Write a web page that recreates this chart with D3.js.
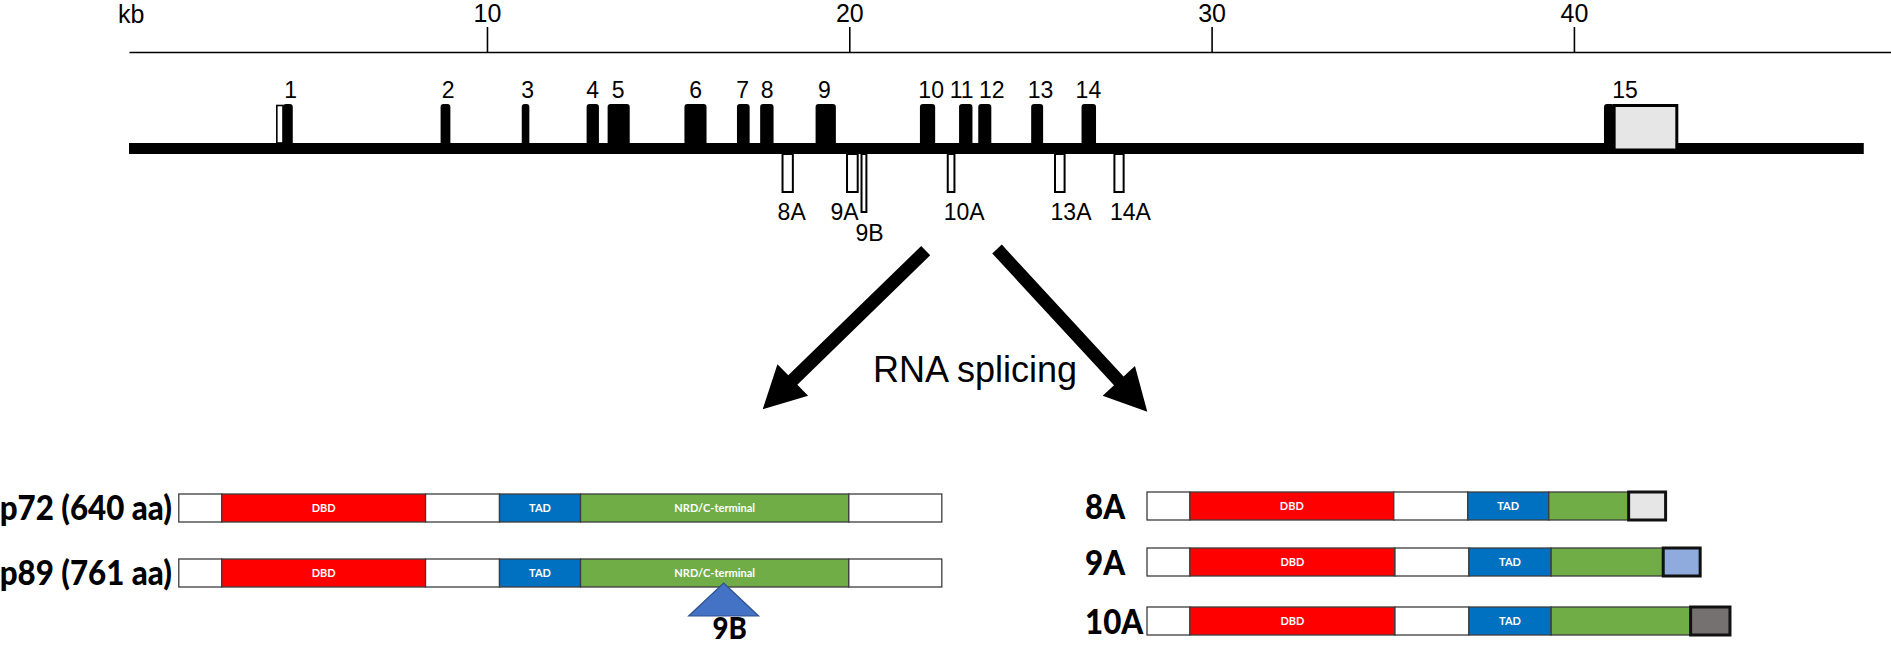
<!DOCTYPE html>
<html>
<head>
<meta charset="utf-8">
<script src="https://cdn.jsdelivr.net/npm/d3@7"></script>
<style>
  html, body { margin: 0; padding: 0; background: #ffffff; }
  svg { display: block; }
</style>
</head>
<body>
<svg id="chart" width="1891" height="646"></svg>
<script>
// ---------------- DATA ----------------
// genomic axis (kb)
const axisTicks = [10, 20, 30, 40];
const axisUnit = "kb";
// constitutive exons (kb)
const exonNames   = ["1","2","3","4","5","6","7","8","9","10","11","12","13","14","15"];
const exonStartKb = [4.37, 8.72, 10.96, 12.75, 13.33, 15.45, 16.90, 17.54, 19.07, 21.95, 23.03, 23.56, 25.02, 26.41, 40.83];
const exonEndKb   = [4.64, 8.99, 11.17, 13.09, 13.94, 16.06, 17.25, 17.91, 19.63, 22.37, 23.40, 23.92, 25.35, 26.81, 41.11];
const exonLabelKb = [4.58, 8.93, 11.12, 12.92, 13.62, 15.76, 17.06, 17.73, 19.31, 22.26, 23.10, 23.93, 25.28, 26.60, 41.41];
// untranslated parts (kb)
const utrStartKb = [4.20, 41.11];
const utrEndKb   = [4.37, 42.84];
const utrFill    = ["#ffffff", "#e6e6e6"];
// gene span (kb)
const geneStartKb = 0.12, geneEndKb = 48.0;
// alternative exons (kb)
const altNames   = ["8A", "9A", "9B", "10A", "13A", "14A"];
const altStartKb = [18.13, 19.91, 20.31, 22.69, 25.65, 27.29];
const altEndKb   = [18.47, 20.26, 20.50, 22.93, 25.97, 27.60];
const altLabelKb = [18.41, 19.87, 20.56, 23.17, 26.12, 27.76];
const altRow     = [0, 0, 1, 0, 0, 0];

// protein isoforms (segment lengths in aa units)
const segTypes  = ["N", "DBD", "L", "TAD", "NRD/C-terminal", "C"];
const segColors = ["#ffffff", "#ff0000", "#ffffff", "#0070c0", "#70ad47", "#ffffff"];
const segLabels = ["", "DBD", "", "TAD", "NRD/C-terminal", ""];
const leftIsoforms = ["p72 (640 aa)", "p89 (761 aa)"];
const leftSegs = [
  [36, 171, 62, 68, 225, 78],
  [36, 171, 62, 68, 225, 78]
];
const insertName = "9B";
const insertAa = 457;   // position of 9B insertion on p89
const rightIsoforms = ["8A", "9A", "10A"];
const rightSegs = [
  [36, 171, 62, 68, 67, 31],
  [36, 172, 62, 69, 94, 31],
  [36, 172, 62, 69, 117, 33]
];
const rightEndColors = ["#e7e6e6", "#8faadc", "#767171"];
const rightSegLabels = ["", "DBD", "", "TAD", "", ""];
const splicingLabel = "RNA splicing";

// ---------------- LAYOUT ----------------
const svg = d3.select("#chart");
const x = d3.scaleLinear().domain([0.12, 49]).range([129, 1900]);
const axisY = 52;
const lineTop = 143, lineBot = 154;
const exonTop = 104;
const altBottoms = [193, 213];
const altLabelBase = [220, 241];
const sans = "'Liberation Sans', Arial, sans-serif";

// axis
const axis = d3.axisTop(x).tickValues(axisTicks).tickSize(25).tickSizeOuter(0).tickPadding(5)
  .tickFormat(d3.format("d"));
const gAxis = svg.append("g").attr("transform", `translate(0,${axisY})`).call(axis);
gAxis.select(".domain").attr("stroke", "#000").attr("stroke-width", 1.6);
gAxis.selectAll(".tick line").attr("stroke", "#000").attr("stroke-width", 1.6);
gAxis.selectAll(".tick text").attr("fill", "#000")
  .style("font-family", sans).style("font-size", "25px");
svg.append("text").attr("x", 118).attr("y", 23).text(axisUnit)
  .style("font-family", sans).style("font-size", "25px");

// gene line
svg.append("rect").attr("x", x(geneStartKb)).attr("y", lineTop)
  .attr("width", x(geneEndKb) - x(geneStartKb)).attr("height", lineBot - lineTop).attr("fill", "#000");

// exons with rounded top
function topRounded(x0, x1, y0, y1, r) {
  r = Math.min(r, (x1 - x0) / 2);
  return `M${x0},${y1} L${x0},${y0 + r} Q${x0},${y0} ${x0 + r},${y0} L${x1 - r},${y0} Q${x1},${y0} ${x1},${y0 + r} L${x1},${y1} Z`;
}
const exons = exonNames.map((n, i) => ({ n, s: exonStartKb[i], e: exonEndKb[i], l: exonLabelKb[i] }));
svg.append("g").selectAll("path").data(exons).join("path")
  .attr("d", d => topRounded(x(d.s), x(d.e), exonTop, lineTop + 1, 3))
  .attr("fill", "#000");
svg.append("g").selectAll("text").data(exons).join("text")
  .attr("x", d => x(d.l)).attr("y", 98).attr("text-anchor", "middle").text(d => d.n)
  .style("font-family", sans).style("font-size", "23px");

// UTRs
const utrs = utrStartKb.map((s, i) => ({ s, e: utrEndKb[i], f: utrFill[i] }));
svg.append("g").selectAll("rect").data(utrs).join("rect")
  .attr("x", d => x(d.s)).attr("y", d => exonTop + 1.5)
  .attr("width", d => x(d.e) - x(d.s)).attr("height", (d, i) => i === 0 ? lineTop - exonTop - 1.5 : 150 - exonTop - 1.5)
  .attr("fill", d => d.f).attr("stroke", "#000").attr("stroke-width", (d, i) => i === 0 ? 1.6 : 3);

// alternative exons
const alts = altNames.map((n, i) => ({ n, s: altStartKb[i], e: altEndKb[i], l: altLabelKb[i], r: altRow[i] }));
svg.append("g").selectAll("rect").data(alts).join("rect")
  .attr("x", d => x(d.s) + 1).attr("y", lineBot)
  .attr("width", d => x(d.e) - x(d.s) - 2).attr("height", d => altBottoms[d.r] - lineBot - 1)
  .attr("fill", "#fff").attr("stroke", "#000").attr("stroke-width", 2);
svg.append("g").selectAll("text").data(alts).join("text")
  .attr("x", d => x(d.l)).attr("y", d => altLabelBase[d.r]).attr("text-anchor", "middle").text(d => d.n)
  .style("font-family", sans).style("font-size", "23px");

// arrows
function arrowPath(x0, y0, x1, y1, w, hl, hw) {
  const dx = x1 - x0, dy = y1 - y0, L = Math.hypot(dx, dy);
  const ux = dx / L, uy = dy / L, px = -uy, py = ux;
  const bx = x1 - ux * hl, by = y1 - uy * hl;
  const pts = [
    [x0 + px * w / 2, y0 + py * w / 2],
    [bx + px * w / 2, by + py * w / 2],
    [bx + px * hw / 2, by + py * hw / 2],
    [x1, y1],
    [bx - px * hw / 2, by - py * hw / 2],
    [bx - px * w / 2, by - py * w / 2],
    [x0 - px * w / 2, y0 - py * w / 2]
  ];
  return "M" + pts.map(p => p.join(",")).join("L") + "Z";
}
const arrows = [
  { x0: 925.7, y0: 250.7, x1: 762.7, y1: 409.3 },
  { x0: 997, y0: 249, x1: 1147.3, y1: 411.7 }
];
svg.append("g").selectAll("path").data(arrows).join("path")
  .attr("d", d => arrowPath(d.x0, d.y0, d.x1, d.y1, 13, 42, 44)).attr("fill", "#000");
svg.append("text").attr("x", 873).attr("y", 382).text(splicingLabel)
  .style("font-family", sans).style("font-size", "36px");

// ---------------- PROTEINS ----------------
const aaL = d3.scaleLinear().domain([0, 640]).range([178.8, 941.8]);
const aaR = d3.scaleLinear().domain([0, 640]).range([1147, 1910]);
const labelFont = "Lato, 'Open Sans', sans-serif";

// bold, slightly condensed label (like Calibri bold)
function boldLabel(xp, yp, txt, anchor, size) {
  const t = svg.append("text").attr("x", xp).attr("y", yp).attr("text-anchor", anchor).text(txt)
    .style("font-family", labelFont).style("font-weight", "900").style("font-size", size + "px");
  const w = t.node().getComputedTextLength();
  t.attr("textLength", w * 0.92).attr("lengthAdjust", "spacingAndGlyphs");
  return t;
}

function drawBar(scale, segs, colors, labels, y, h, lastThick) {
  const g = svg.append("g");
  let acc = 0;
  const data = segs.map((len, i) => { const d = { s: acc, e: acc + len, c: colors[i], t: labels[i], i }; acc += len; return d; });
  g.selectAll("rect").data(data).join("rect")
    .attr("x", d => scale(d.s)).attr("y", y)
    .attr("width", d => scale(d.e) - scale(d.s)).attr("height", h)
    .attr("fill", d => d.c)
    .attr("stroke", d => (lastThick && d.i === segs.length - 1) ? "#111" : "#3c3c3c")
    .attr("stroke-width", d => (lastThick && d.i === segs.length - 1) ? 3 : 1.3);
  g.selectAll("rect").filter(d => lastThick && d.i === segs.length - 1).raise();
  g.selectAll("text").data(data.filter(d => d.t)).join("text")
    .attr("x", d => (scale(d.s) + scale(d.e)) / 2).attr("y", y + h / 2 + 4)
    .attr("text-anchor", "middle").attr("fill", "#fff").text(d => d.t)
    .style("font-family", labelFont).style("font-weight", "bold").style("font-size", "11px");
}

const leftY = [494, 559];
leftIsoforms.forEach((name, i) => {
  drawBar(aaL, leftSegs[i], segColors, segLabels, leftY[i], 28, false);
  boldLabel(172, leftY[i] + 26, name, "end", 34);
});

// 9B insertion triangle
const tx = aaL(insertAa);
svg.append("path")
  .attr("d", `M${tx},583 L${tx + 35},616 L${tx - 35},616 Z`)
  .attr("fill", "#4472c4").attr("stroke", "#2f528f").attr("stroke-width", 1.2);
boldLabel(tx + 6, 639, insertName, "middle", 30);

const rightY = [492, 548, 607];
rightIsoforms.forEach((name, i) => {
  const cols = segColors.slice(0, 5).concat([rightEndColors[i]]);
  drawBar(aaR, rightSegs[i], cols, rightSegLabels, rightY[i], 28, true);
  boldLabel(1085, rightY[i] + 27, name, "start", 34);
});
</script>
</body>
</html>
